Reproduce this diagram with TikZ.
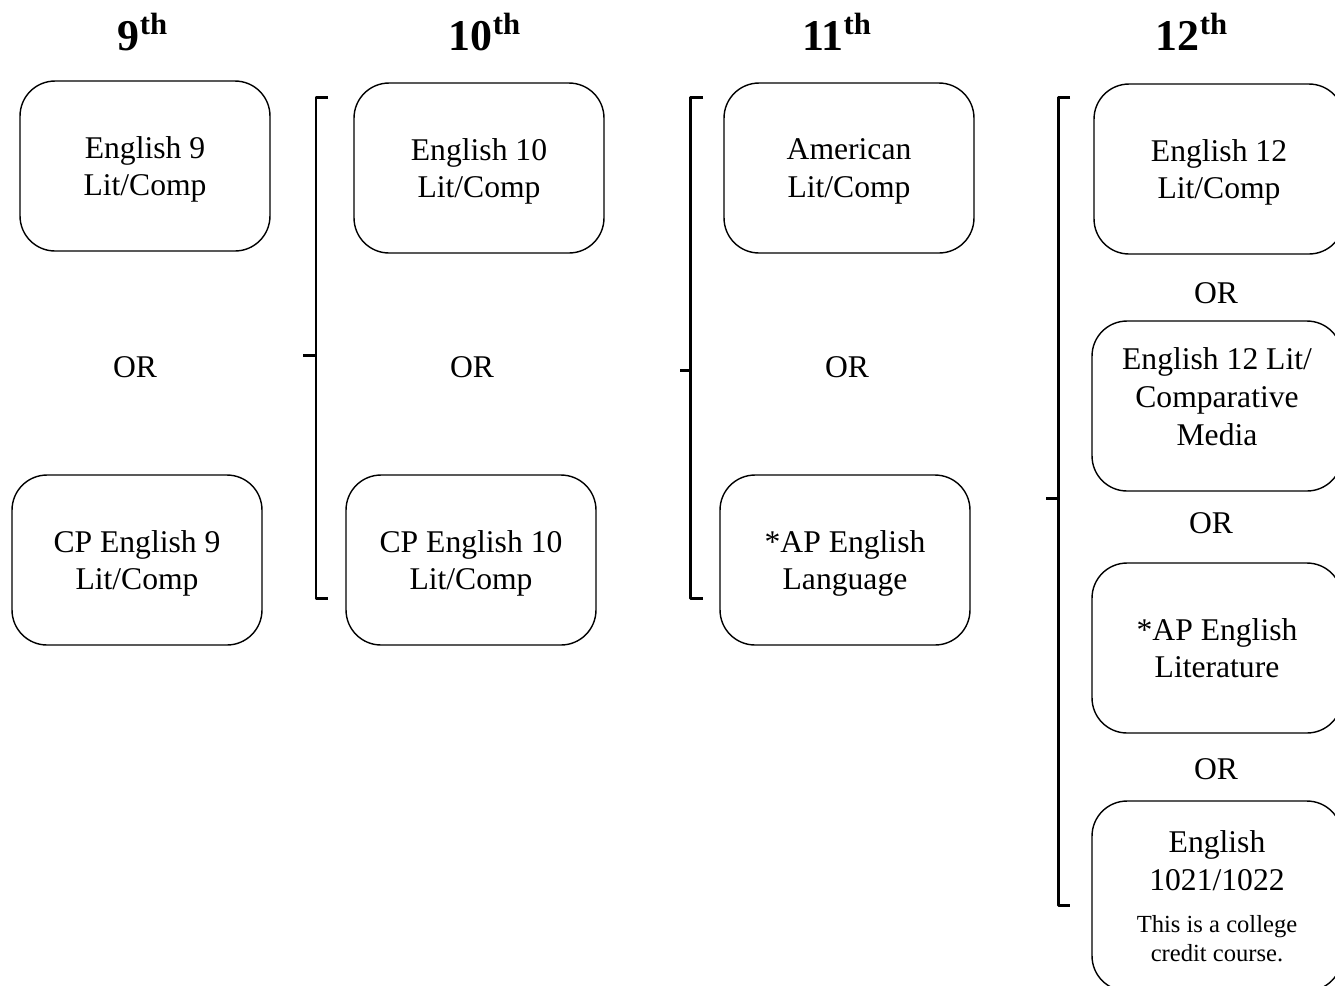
\documentclass[tikz,border=0pt]{standalone}
\usepackage{fontspec}
\setmainfont{Liberation Serif}
\begin{document}
\begin{tikzpicture}[x=0.02cm,y=-0.02cm,
  course/.style={draw,rounded corners=0.7cm,minimum width=5cm,minimum height=3.4cm,align=center,font=\fontsize{18}{21.5}\selectfont,line width=0.8pt,text depth=-3pt},
  grade/.style={anchor=base,font=\fontsize{25}{30}\selectfont\bfseries},
  ortext/.style={font=\fontsize{18}{21.5}\selectfont},
  brk/.style={line width=1.7pt,line join=round}]
\useasboundingbox (0,0) rectangle (1335,985);
\node[grade] (g9) at (143,50) {9\textsuperscript{th}};
\node[grade] (g10) at (485,50) {10\textsuperscript{th}};
\node[grade] (g11) at (837,50) {11\textsuperscript{th}};
\node[grade] (g12) at (1192,50) {12\textsuperscript{th}};
\node[course] (eng9) at (145,166) {English 9\\Lit/Comp};
\node[ortext] (or9) at (135,367) {OR};
\node[course] (cp9) at (137,560) {CP English 9\\Lit/Comp};
\node[course] (eng10) at (479,168) {English 10\\Lit/Comp};
\node[ortext] (or10) at (472,367) {OR};
\node[course] (cp10) at (471,560) {CP English 10\\Lit/Comp};
\node[course] (amlit) at (849,168) {American\\Lit/Comp};
\node[ortext] (or11) at (847,367) {OR};
\node[course] (aplang) at (845,560) {*AP English\\Language};
\node[course] (eng12) at (1219,169) {English 12\\Lit/Comp};
\node[ortext] (or12a) at (1216,293) {OR};
\node[course,text depth=11pt] (media) at (1217,406) {English 12 Lit/\\Comparative\\Media};
\node[ortext] (or12b) at (1211,523) {OR};
\node[course,text depth=0pt] (aplit) at (1217,648) {*AP English\\Literature};
\node[ortext] (or12c) at (1216,769) {OR};
\node[course,minimum height=3.8cm,text depth=0pt] (college) at (1217,896) {English\\1021/1022\\[2pt]{\fontsize{14}{16.5}\selectfont This is a college}\\[-5pt]{\fontsize{14}{16.5}\selectfont credit course.}};
\draw[brk] (328,97) -- (316,97) -- (316,598) -- (328,598);
\draw[brk] (316,355) -- (303,355);
\draw[brk] (703,97) -- (690,97) -- (690,598) -- (703,598);
\draw[brk] (690,370) -- (680,370);
\draw[brk] (1070,97) -- (1058,97) -- (1058,905) -- (1070,905);
\draw[brk] (1058,498) -- (1046,498);
\end{tikzpicture}
\end{document}
